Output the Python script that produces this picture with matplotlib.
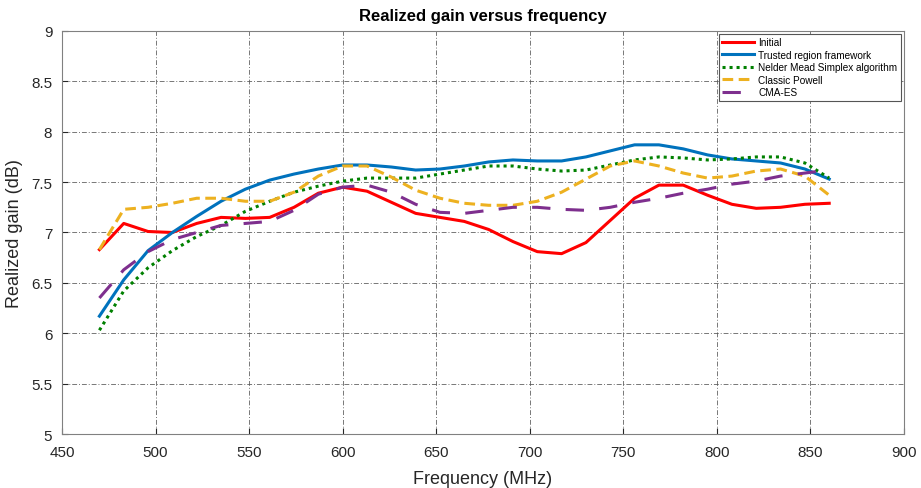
import matplotlib
matplotlib.use("Agg")
import matplotlib.pyplot as plt
import numpy as np

plt.rcParams['font.family'] = ['Liberation Sans', 'DejaVu Sans']

freq = [470 + 13 * i for i in range(31)]

initial = [6.83, 7.09, 7.01, 7.00, 7.09, 7.15, 7.14, 7.15, 7.25, 7.39, 7.45, 7.41, 7.30, 7.19, 7.15, 7.11,
           7.03, 6.91, 6.81, 6.79, 6.90, 7.12, 7.34, 7.47, 7.47, 7.37, 7.28, 7.24, 7.25, 7.28, 7.29]
trusted = [6.17, 6.53, 6.82, 7.00, 7.16, 7.31, 7.43, 7.52, 7.58, 7.63, 7.67, 7.67, 7.65, 7.62, 7.63, 7.66,
           7.70, 7.72, 7.71, 7.71, 7.75, 7.81, 7.87, 7.87, 7.83, 7.77, 7.73, 7.71, 7.69, 7.63, 7.53]
nelder = [6.03, 6.42, 6.65, 6.82, 6.96, 7.07, 7.21, 7.31, 7.40, 7.46, 7.51, 7.54, 7.54, 7.54, 7.58, 7.62,
          7.66, 7.66, 7.63, 7.61, 7.62, 7.67, 7.72, 7.75, 7.74, 7.72, 7.73, 7.75, 7.75, 7.69, 7.54]
powell = [6.83, 7.23, 7.25, 7.29, 7.34, 7.34, 7.31, 7.31, 7.40, 7.56, 7.66, 7.66, 7.55, 7.42, 7.34, 7.29,
          7.27, 7.27, 7.31, 7.40, 7.53, 7.66, 7.71, 7.66, 7.59, 7.54, 7.56, 7.61, 7.63, 7.56, 7.37]
cmaes = [6.35, 6.63, 6.81, 6.93, 7.00, 7.07, 7.09, 7.11, 7.22, 7.38, 7.45, 7.47, 7.40, 7.28, 7.20, 7.19,
         7.22, 7.25, 7.25, 7.23, 7.22, 7.25, 7.30, 7.34, 7.39, 7.43, 7.48, 7.51, 7.56, 7.59, 7.62]

labels = ["Initial", "Trusted region framework", "Nelder Mead Simplex algorithm", "Classic Powell", "CMA-ES"]
xticks = [450, 500, 550, 600, 650, 700, 750, 800, 850, 900]
yticks = [5, 5.5, 6, 6.5, 7, 7.5, 8, 8.5, 9]
ytick_labels = ["5", "5.5", "6", "6.5", "7", "7.5", "8", "8.5", "9"]

fig = plt.figure(figsize=(9.21, 4.89), dpi=100)
ax = fig.add_axes([0.0673, 0.1104, 0.9143, 0.8242])

lw = 2.2
ax.plot(freq, initial, color='#FF0000', lw=lw, ls='-', label=labels[0])
ax.plot(freq, trusted, color='#0072BD', lw=lw, ls='-', label=labels[1])
ax.plot(freq, nelder, color='#008000', lw=lw, ls=(0, (1, 1.3)), label=labels[2])
ax.plot(freq, powell, color='#EDB120', lw=lw, ls=(0, (3.5, 1.8)), label=labels[3])
ax.plot(freq, cmaes, color='#7E2F8E', lw=lw, ls=(0, (6, 5)), label=labels[4])

ax.set_xlim(450, 900)
ax.set_ylim(5, 9)
ax.set_xticks(xticks)
ax.set_yticks(yticks)
ax.set_yticklabels(ytick_labels)
ax.tick_params(direction='in', labelsize=11, colors='#262626', length=4)
ax.tick_params(axis='x', pad=8)
ax.tick_params(axis='y', pad=7)
ax.grid(True, color='#555555', ls=(0, (5, 2, 1, 2)), lw=0.7, alpha=0.8)
for s in ax.spines.values():
    s.set_color('#808080')
    s.set_linewidth(0.8)

ax.set_xlabel("Frequency (MHz)", fontsize=13, color='#262626', labelpad=8)
ax.set_ylabel("Realized gain (dB)", fontsize=13, color='#262626', labelpad=6)
ax.set_title("Realized gain versus frequency", fontsize=12, fontweight='bold', pad=8)

leg = ax.legend(loc='upper right', fontsize=7.2, handlelength=3.2, handletextpad=0.4,
                borderpad=0.35, labelspacing=0.25, fancybox=False, framealpha=1,
                borderaxespad=0.3)
leg.get_frame().set_edgecolor('#555555')
leg.get_frame().set_linewidth(0.8)

fig.savefig("out.png", dpi=100)
